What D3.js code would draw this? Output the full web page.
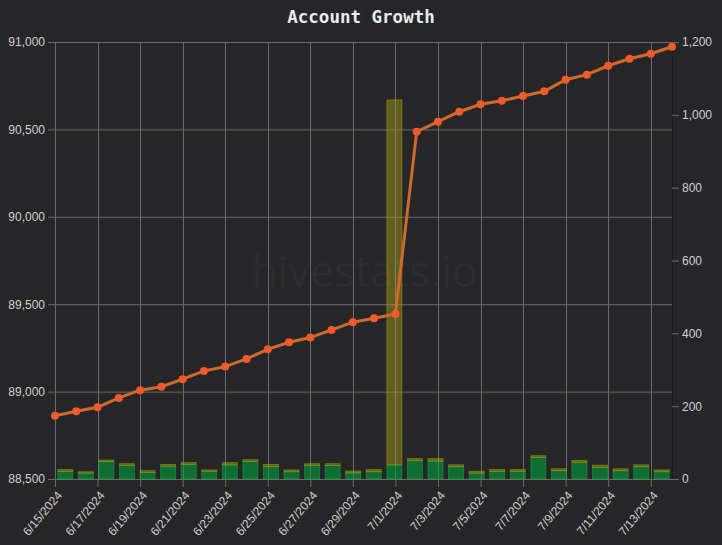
<!DOCTYPE html>
<html>
<head>
<meta charset="utf-8">
<script src="https://cdn.jsdelivr.net/npm/d3@7"></script>
<style>
  body { margin: 0; background: #262628; }
  .axis text { font-family: "Liberation Sans", Arial, sans-serif; font-size: 12px; fill: #cfcfcf; }
  .axis line { stroke: #6a6a6a; }
  .axis path { display: none; }
</style>
</head>
<body>
<div id="chart"></div>
<script>
const dates = [
    "2024-06-15", "2024-06-16", "2024-06-17", "2024-06-18", "2024-06-19", "2024-06-20",
    "2024-06-21", "2024-06-22", "2024-06-23", "2024-06-24", "2024-06-25", "2024-06-26",
    "2024-06-27", "2024-06-28", "2024-06-29", "2024-06-30", "2024-07-01", "2024-07-02",
    "2024-07-03", "2024-07-04", "2024-07-05", "2024-07-06", "2024-07-07", "2024-07-08",
    "2024-07-09", "2024-07-10", "2024-07-11", "2024-07-12", "2024-07-13", "2024-07-14"
];
const totals = [
    88862, 88888, 88910, 88964, 89008, 89028, 89071, 89118, 89143, 89187,
    89242, 89282, 89309, 89353, 89397, 89420, 89444, 90487, 90544, 90601,
    90644, 90664, 90691, 90718, 90784, 90813, 90864, 90904, 90933, 90973
];
const greenValues = [
    21, 16, 48, 37, 18, 35, 40, 21, 39, 48, 34, 20, 37, 37, 17,
    20, 39, 51, 49, 34, 16, 21, 21, 59, 23, 46, 32, 23, 34, 20
];
const oliveValues = [
    5, 4, 4, 5, 5, 5, 5, 4, 6, 5, 6, 5, 5, 5, 5,
    6, 1002, 5, 7, 5, 5, 5, 5, 5, 5, 5, 6, 5, 5, 5
];
const leftTicks = [88500, 89000, 89500, 90000, 90500, 91000];
const rightTicks = [0, 200, 400, 600, 800, 1000, 1200];

const margin = { top: 42, right: 50, bottom: 66, left: 55 };
const width = 722 - margin.left - margin.right;
const height = 545 - margin.top - margin.bottom;

const parse = d3.timeParse("%Y-%m-%d");
const fmt = d3.timeFormat("%-m/%-d/%Y");

const root = d3.select("#chart")
    .append("svg")
    .attr("width", 722)
    .attr("height", 545);

root.append("rect")
    .attr("width", 722)
    .attr("height", 545)
    .attr("fill", "#262628");

// title
root.append("text")
    .attr("x", 361)
    .attr("y", 23)
    .attr("text-anchor", "middle")
    .attr("font-family", "DejaVu Sans Mono, monospace")
    .attr("font-weight", "bold")
    .attr("font-size", 17.5)
    .attr("fill", "#e8ebef")
    .text("Account Growth");

const svg = root.append("g")
    .attr("transform", "translate(" + margin.left + "," + margin.top + ")");

// scales
const x = d3.scalePoint()
    .domain(dates)
    .range([0, width]);

const xBand = d3.scaleBand()
    .domain(dates)
    .range([0, width])
    .paddingInner(0.27)
    .paddingOuter(0.135);

const yL = d3.scaleLinear()
    .domain([88500, 91000])
    .range([height, 0]);

const yR = d3.scaleLinear()
    .domain([0, 1200])
    .range([height, 0]);

// watermark
svg.append("text")
    .attr("x", width / 2 + 1)
    .attr("y", 245)
    .attr("text-anchor", "middle")
    .attr("font-family", "Open Sans, sans-serif")
    .attr("font-size", 43)
    .attr("fill", "#2c2c2f")
    .text("hivestats.io");

// grid
const xTickVals = dates.filter((d, i) => i % 2 === 0);

svg.append("g")
    .selectAll("line")
    .data(leftTicks)
    .enter().append("line")
    .attr("x1", 0)
    .attr("x2", width)
    .attr("y1", d => yL(d) + 0.5)
    .attr("y2", d => yL(d) + 0.5)
    .attr("stroke", "#6a6a6a");

svg.append("g")
    .selectAll("line")
    .data(xTickVals)
    .enter().append("line")
    .attr("x1", d => Math.round(x(d)) + 0.5)
    .attr("x2", d => Math.round(x(d)) + 0.5)
    .attr("y1", 0)
    .attr("y2", height)
    .attr("stroke", "#6a6a6a");

// plot border on the right
svg.append("line")
    .attr("x1", width + 0.5)
    .attr("x2", width + 0.5)
    .attr("y1", 0)
    .attr("y2", height)
    .attr("stroke", "#1c1c1e");

// bars: green then olive stacked on top
svg.selectAll(".green")
    .data(dates)
    .enter().append("rect")
    .attr("class", "green")
    .attr("x", d => xBand(d))
    .attr("width", xBand.bandwidth())
    .attr("y", (d, i) => yR(greenValues[i]))
    .attr("height", (d, i) => height - yR(greenValues[i]))
    .attr("fill", "rgba(0,160,60,0.58)")
    .attr("stroke", "rgba(0,200,60,0.45)")
    .attr("stroke-width", 1);

svg.selectAll(".olive")
    .data(dates)
    .enter().append("rect")
    .attr("class", "olive")
    .attr("x", d => xBand(d))
    .attr("width", xBand.bandwidth())
    .attr("y", (d, i) => yR(greenValues[i] + oliveValues[i]))
    .attr("height", (d, i) => yR(greenValues[i]) - yR(greenValues[i] + oliveValues[i]))
    .attr("fill", "rgba(170,165,20,0.45)")
    .attr("stroke", "rgba(170,160,0,0.5)")
    .attr("stroke-width", 1);

// line
const line = d3.line()
    .x(d => x(d))
    .y((d, i) => yL(totals[i]));

svg.append("path")
    .datum(dates)
    .attr("d", line)
    .attr("fill", "none")
    .attr("stroke", "#cf6a2c")
    .attr("stroke-width", 3);

svg.selectAll(".pt")
    .data(dates)
    .enter().append("circle")
    .attr("class", "pt")
    .attr("cx", d => x(d))
    .attr("cy", (d, i) => yL(totals[i]))
    .attr("r", 4)
    .attr("fill", "#f05a28");

// axes
svg.append("g")
    .attr("class", "axis")
    .call(d3.axisLeft(yL).tickValues(leftTicks).tickFormat(d3.format(",")).tickSize(7).tickPadding(3));

svg.append("g")
    .attr("class", "axis")
    .attr("transform", "translate(" + width + ",0)")
    .call(d3.axisRight(yR).tickValues(rightTicks).tickFormat(d3.format(",")).tickSize(7).tickPadding(3));

svg.append("g")
    .attr("class", "axis")
    .attr("transform", "translate(0," + height + ")")
    .call(d3.axisBottom(x).tickValues(xTickVals).tickFormat(d => fmt(parse(d))).tickSize(8).tickPadding(3))
    .selectAll("text")
    .attr("x", 0)
    .attr("y", 0)
    .attr("text-anchor", "end")
    .attr("dx", 0)
    .attr("dy", "0.35em")
    .attr("transform", "translate(4,14) rotate(-50)");
</script>
</body>
</html>
